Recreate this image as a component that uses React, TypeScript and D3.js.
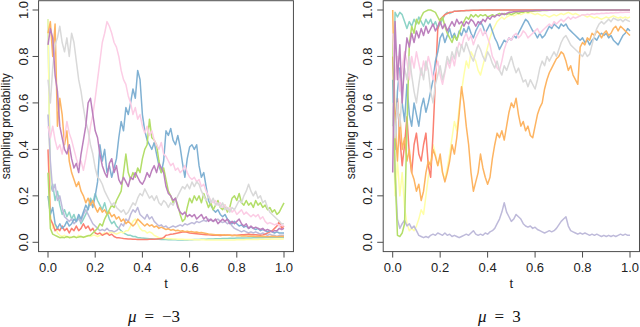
import React from "react";
import * as d3 from "d3";

// ---- data (t = i/(n-1)) ----
const seriesNames = ["teal", "yellow", "lavender", "red", "blue", "orange", "green", "pink", "grey", "purple"];
const seriesColors = ["#8DD3C7", "#FFFFA8", "#BEBADA", "#FB8072", "#80B1D3", "#FDB462", "#B3DE69", "#FCCDE5", "#D9D9D9", "#BC80BD"];
const xTicks = [0, 0.2, 0.4, 0.6, 0.8, 1.0];
const xTickLabels = ["0.0", "0.2", "0.4", "0.6", "0.8", "1.0"];
const yTicks = [0, 0.2, 0.4, 0.6, 0.8, 1.0];
const yTickLabels = ["0.0", "0.2", "0.4", "0.6", "0.8", "1.0"];
const panelTitles = ["\u03bc", "\u03bc"];
const panelMu = ["\u22123", "3"];

// mu = -3 panel
const leftTeal = [0.96,0.22,0.25,0.18,0.22,0.16,0.12,0.14,0.11,0.13, 0.10,0.12,0.09,0.11,0.08,0.10,0.12,0.15,0.19,0.17, 0.21,0.18,0.16,0.14,0.17,0.13,0.10,0.08,0.09,0.07, 0.06,0.05,0.04,0.035,0.03,0.03,0.025,0.025,0.02,0.02, 0.018,0.017,0.016,0.015,0.015,0.014,0.013,0.013,0.012,0.012, 0.012,0.011,0.011,0.011,0.011,0.01,0.01,0.01,0.01,0.01, 0.011,0.011,0.012,0.012,0.012,0.013,0.013,0.013,0.014,0.014, 0.014,0.015,0.015,0.015,0.016,0.016,0.016,0.017,0.017,0.017, 0.018,0.018,0.018,0.018,0.019,0.019,0.019,0.02,0.02,0.02, 0.02,0.02,0.021,0.021,0.021,0.021,0.022,0.022,0.022,0.022,0.022];
const leftYellow = [0.96,0.12,0.06,0.08,0.04,0.03,0.025,0.03,0.02,0.025, 0.02,0.025,0.02,0.03,0.025,0.02,0.025,0.03,0.025,0.03, 0.03,0.025,0.03,0.035,0.04,0.035,0.04,0.045,0.04,0.035, 0.04,0.045,0.04,0.05,0.05,0.07,0.09,0.10,0.08,0.06, 0.05,0.05,0.04,0.045,0.04,0.03,0.025,0.02,0.018,0.017, 0.016,0.015,0.015,0.014,0.014,0.013,0.013,0.013,0.012,0.012, 0.012,0.012,0.011,0.011,0.011,0.011,0.011,0.01,0.01,0.01, 0.01,0.01,0.01,0.01,0.01,0.01,0.01,0.01,0.01,0.01, 0.011,0.011,0.011,0.011,0.012,0.012,0.012,0.012,0.012,0.012, 0.013,0.013,0.013,0.013,0.013,0.014,0.014,0.014,0.014,0.014,0.015];
const leftLavender = [0.55,0.35,0.22,0.25,0.18,0.2,0.15,0.11,0.1,0.09, 0.1,0.08,0.09,0.1,0.09,0.12,0.14,0.12,0.1,0.08, 0.07,0.06,0.05,0.055,0.05,0.06,0.05,0.05,0.045,0.05, 0.06,0.08,0.07,0.1,0.09,0.12,0.14,0.13,0.15,0.12, 0.11,0.1,0.12,0.1,0.11,0.09,0.08,0.07,0.075,0.065, 0.07,0.06,0.065,0.07,0.065,0.07,0.075,0.07,0.08,0.075, 0.08,0.085,0.08,0.09,0.085,0.09,0.095,0.09,0.1,0.095, 0.09,0.095,0.1,0.09,0.085,0.09,0.08,0.085,0.07,0.06, 0.055,0.05,0.045,0.05,0.045,0.04,0.045,0.04,0.045,0.04, 0.035,0.04,0.035,0.03,0.035,0.03,0.03,0.025,0.03,0.03,0.03];
const leftRed = [0.4,0.1,0.08,0.05,0.06,0.05,0.07,0.05,0.06,0.04, 0.06,0.05,0.07,0.05,0.06,0.08,0.06,0.07,0.05,0.06, 0.04,0.035,0.04,0.03,0.035,0.04,0.03,0.035,0.025,0.02, 0.02,0.018,0.016,0.015,0.014,0.014,0.013,0.013,0.012,0.012, 0.012,0.012,0.012,0.013,0.013,0.013,0.014,0.015,0.016,0.02, 0.03,0.032,0.035,0.036,0.038,0.04,0.042,0.044,0.045,0.043, 0.04,0.039,0.038,0.037,0.036,0.035,0.034,0.033,0.032,0.031, 0.03,0.031,0.03,0.029,0.03,0.03,0.031,0.03,0.029,0.03, 0.03,0.031,0.032,0.033,0.034,0.035,0.034,0.033,0.032,0.031, 0.03,0.032,0.035,0.04,0.045,0.05,0.06,0.07,0.09,0.06,0.07];
const leftBlue = [0.2,0.12,0.15,0.08,0.06,0.08,0.06,0.07,0.09,0.07, 0.08,0.1,0.09,0.12,0.1,0.13,0.16,0.14,0.18,0.15, 0.2,0.26,0.42,0.35,0.4,0.3,0.33,0.28,0.32,0.36, 0.45,0.52,0.48,0.58,0.55,0.6,0.66,0.62,0.74,0.7, 0.55,0.48,0.44,0.42,0.4,0.43,0.38,0.33,0.3,0.35, 0.48,0.46,0.49,0.44,0.42,0.46,0.41,0.34,0.28,0.36, 0.41,0.42,0.4,0.42,0.33,0.28,0.3,0.24,0.18,0.16, 0.14,0.13,0.14,0.12,0.11,0.12,0.1,0.09,0.08,0.09, 0.08,0.07,0.075,0.065,0.07,0.06,0.065,0.06,0.055,0.06, 0.05,0.055,0.05,0.045,0.05,0.045,0.04,0.045,0.04,0.04,0.04];
const leftOrange = [0.9,0.95,0.8,0.94,0.5,0.62,0.55,0.42,0.48,0.35, 0.3,0.27,0.24,0.26,0.22,0.2,0.17,0.19,0.16,0.18, 0.15,0.13,0.15,0.13,0.14,0.12,0.13,0.11,0.12,0.1, 0.11,0.09,0.1,0.08,0.09,0.08,0.07,0.08,0.1,0.09, 0.08,0.07,0.08,0.07,0.075,0.065,0.07,0.06,0.065,0.06, 0.055,0.058,0.052,0.055,0.05,0.052,0.048,0.05,0.046,0.048, 0.045,0.046,0.043,0.044,0.041,0.042,0.04,0.038,0.036,0.035, 0.034,0.033,0.032,0.033,0.031,0.032,0.03,0.031,0.029,0.03, 0.028,0.029,0.027,0.028,0.027,0.026,0.027,0.026,0.025,0.026, 0.025,0.026,0.025,0.024,0.025,0.026,0.025,0.024,0.025,0.026,0.025];
const leftGreen = [0.3,0.06,0.035,0.03,0.025,0.02,0.022,0.02,0.025,0.02, 0.022,0.025,0.02,0.023,0.025,0.022,0.025,0.028,0.03,0.04, 0.05,0.06,0.08,0.07,0.1,0.12,0.14,0.16,0.15,0.18, 0.2,0.22,0.3,0.38,0.3,0.27,0.3,0.28,0.32,0.3, 0.36,0.4,0.42,0.53,0.45,0.44,0.42,0.35,0.3,0.32, 0.27,0.22,0.2,0.17,0.19,0.16,0.12,0.09,0.1,0.15, 0.19,0.17,0.2,0.18,0.2,0.17,0.21,0.18,0.15,0.17, 0.14,0.16,0.18,0.15,0.14,0.16,0.13,0.15,0.19,0.2, 0.18,0.21,0.17,0.16,0.18,0.16,0.17,0.15,0.18,0.16, 0.17,0.15,0.16,0.14,0.15,0.13,0.14,0.12,0.13,0.15,0.17];
const leftPink = [0.5,0.45,0.5,0.44,0.4,0.42,0.38,0.45,0.52,0.47, 0.44,0.4,0.36,0.33,0.35,0.31,0.36,0.42,0.5,0.55, 0.62,0.7,0.78,0.86,0.9,0.95,0.93,0.9,0.86,0.84, 0.8,0.74,0.7,0.68,0.63,0.6,0.55,0.58,0.53,0.55, 0.5,0.47,0.5,0.46,0.48,0.44,0.42,0.4,0.43,0.38, 0.37,0.35,0.33,0.34,0.31,0.32,0.3,0.31,0.33,0.3, 0.28,0.27,0.28,0.26,0.27,0.24,0.25,0.22,0.2,0.18, 0.17,0.18,0.16,0.17,0.15,0.16,0.14,0.15,0.13,0.14, 0.12,0.13,0.14,0.12,0.13,0.12,0.11,0.12,0.11,0.12, 0.1,0.11,0.09,0.08,0.085,0.08,0.075,0.08,0.07,0.075,0.07];
const leftGrey = [0.7,0.6,0.75,0.85,0.88,0.93,0.86,0.82,0.88,0.8, 0.9,0.86,0.78,0.7,0.65,0.58,0.52,0.48,0.42,0.38, 0.32,0.28,0.27,0.25,0.22,0.2,0.18,0.16,0.17,0.15, 0.14,0.13,0.14,0.12,0.13,0.15,0.17,0.16,0.19,0.21, 0.2,0.23,0.21,0.19,0.2,0.18,0.2,0.17,0.16,0.18, 0.17,0.15,0.17,0.16,0.18,0.2,0.22,0.24,0.23,0.25, 0.23,0.26,0.24,0.26,0.25,0.22,0.2,0.18,0.2,0.17, 0.19,0.16,0.17,0.15,0.17,0.14,0.15,0.13,0.15,0.14, 0.16,0.18,0.17,0.2,0.22,0.25,0.22,0.2,0.22,0.19, 0.2,0.17,0.18,0.15,0.13,0.12,0.11,0.1,0.09,0.08,0.08];
const leftPurple = [0.85,0.92,0.88,0.72,0.65,0.5,0.45,0.4,0.38,0.42, 0.36,0.32,0.34,0.3,0.38,0.44,0.5,0.6,0.62,0.55, 0.48,0.45,0.38,0.33,0.3,0.28,0.34,0.36,0.3,0.33, 0.27,0.25,0.28,0.26,0.24,0.28,0.27,0.3,0.28,0.26, 0.25,0.27,0.3,0.28,0.31,0.33,0.3,0.34,0.32,0.3, 0.24,0.21,0.2,0.18,0.19,0.15,0.13,0.12,0.13,0.11, 0.12,0.11,0.12,0.1,0.11,0.12,0.1,0.11,0.09,0.1, 0.09,0.1,0.08,0.09,0.1,0.09,0.1,0.08,0.09,0.08, 0.09,0.1,0.08,0.07,0.08,0.06,0.07,0.06,0.065,0.06, 0.055,0.06,0.05,0.055,0.05,0.045,0.05,0.05,0.06,0.055,0.06];

// mu = 3 panel
const rightTeal = [0.5,0.99,0.97,0.99,0.98,0.95,0.92,0.95,0.93,0.96, 0.94,0.97,0.95,0.93,0.96,0.94,0.96,0.93,0.95,0.92, 0.94,0.96,0.98,0.99,0.985,0.99,0.995,0.995,0.996,0.997, 0.997,0.998,0.998,0.998,0.999,0.999,0.999,0.999,0.999,0.999, 1,1,1,1,1,1,1,1,1,1, 1,1,1,1,1,1,1,1,1,1, 1,1,1,1,1,1,1,1,1,1, 1,1,1,1,1,1,1,1,1,1, 1,1,1,1,1,1,1,1,1,1, 1,1,1,1,1,1,1,1,1,1,1];
const rightYellow = [0.6,0.2,0.35,0.2,0.3,0.15,0.08,0.05,0.06,0.05, 0.07,0.1,0.14,0.12,0.2,0.28,0.35,0.42,0.38,0.33, 0.36,0.3,0.27,0.32,0.38,0.45,0.52,0.48,0.58,0.65, 0.72,0.78,0.75,0.82,0.8,0.78,0.74,0.72,0.76,0.8, 0.84,0.88,0.91,0.93,0.95,0.96,0.97,0.96,0.97,0.975, 0.98,0.975,0.98,0.985,0.98,0.985,0.99,0.985,0.99,0.985, 0.98,0.985,0.98,0.975,0.98,0.975,0.97,0.975,0.98,0.975, 0.98,0.985,0.98,0.985,0.99,0.985,0.98,0.985,0.98,0.975, 0.98,0.975,0.97,0.975,0.97,0.965,0.97,0.965,0.96,0.965, 0.97,0.965,0.97,0.975,0.97,0.965,0.97,0.965,0.97,0.965,0.97];
const rightLavender = [0.6,0.3,0.1,0.06,0.08,0.095,0.07,0.08,0.06,0.07, 0.05,0.03,0.025,0.02,0.025,0.02,0.03,0.035,0.03,0.04, 0.035,0.03,0.04,0.03,0.035,0.025,0.03,0.025,0.02,0.025, 0.03,0.035,0.03,0.04,0.05,0.035,0.03,0.035,0.03,0.04, 0.035,0.045,0.05,0.06,0.08,0.1,0.13,0.17,0.13,0.11, 0.09,0.1,0.12,0.11,0.1,0.08,0.07,0.065,0.07,0.06, 0.065,0.055,0.05,0.045,0.04,0.045,0.05,0.045,0.05,0.06, 0.075,0.09,0.1,0.11,0.07,0.05,0.045,0.04,0.035,0.04, 0.035,0.04,0.035,0.03,0.035,0.03,0.035,0.03,0.025,0.03, 0.025,0.03,0.025,0.03,0.025,0.03,0.035,0.03,0.035,0.03,0.03];
const rightRed = [0.8,0.5,0.62,0.45,0.33,0.42,0.54,0.38,0.3,0.42, 0.47,0.38,0.35,0.42,0.47,0.33,0.28,0.47,0.7,0.92, 0.96,0.97,0.98,0.985,0.99,0.99,0.995,0.995,0.996,0.997, 0.997,0.998,0.998,0.999,0.999,0.999,0.999,1,1,1, 1,1,1,1,1,1,1,1,1,1, 1,1,1,1,1,1,1,1,1,1, 1,1,1,1,1,1,1,1,1,1, 1,1,1,1,1,1,1,1,1,1, 1,1,1,1,1,1,1,1,1,1, 1,1,1,1,1,1,1,1,1,1,1];
const rightBlue = [0.7,0.4,0.65,0.75,0.6,0.52,0.68,0.55,0.5,0.6, 0.55,0.5,0.58,0.62,0.56,0.6,0.65,0.7,0.78,0.82, 0.88,0.9,0.86,0.89,0.92,0.88,0.9,0.87,0.91,0.89, 0.92,0.9,0.93,0.9,0.88,0.91,0.93,0.95,0.93,0.9, 0.92,0.94,0.91,0.88,0.86,0.83,0.85,0.87,0.86,0.88, 0.87,0.89,0.88,0.9,0.92,0.94,0.96,0.95,0.93,0.91, 0.9,0.88,0.9,0.88,0.89,0.91,0.93,0.92,0.94,0.93, 0.92,0.94,0.93,0.94,0.92,0.91,0.9,0.89,0.88,0.87, 0.88,0.86,0.87,0.85,0.87,0.88,0.87,0.89,0.9,0.89, 0.9,0.88,0.89,0.87,0.86,0.85,0.87,0.89,0.9,0.92,0.91];
const rightOrange = [1.0,0.5,0.35,0.55,0.4,0.45,0.35,0.4,0.3,0.27, 0.22,0.25,0.18,0.22,0.3,0.35,0.33,0.4,0.37,0.33, 0.38,0.3,0.26,0.3,0.35,0.42,0.38,0.45,0.55,0.67, 0.6,0.5,0.42,0.3,0.22,0.26,0.3,0.38,0.32,0.28, 0.25,0.28,0.36,0.42,0.47,0.45,0.48,0.44,0.5,0.56, 0.6,0.58,0.62,0.55,0.5,0.52,0.48,0.5,0.46,0.45, 0.5,0.55,0.58,0.6,0.66,0.7,0.73,0.75,0.77,0.79, 0.8,0.82,0.81,0.78,0.74,0.76,0.72,0.7,0.68,0.84, 0.86,0.85,0.88,0.87,0.9,0.89,0.91,0.9,0.88,0.9, 0.91,0.89,0.9,0.92,0.93,0.91,0.93,0.92,0.91,0.9,0.89];
const rightGreen = [0.9,0.3,0.03,0.025,0.04,0.08,0.5,0.85,0.93,0.9, 0.96,0.94,0.97,0.99,0.995,1,1,0.995,0.99,0.97, 0.95,0.97,0.93,0.9,0.88,0.86,0.89,0.87,0.9,0.93, 0.95,0.97,0.96,0.98,0.97,0.98,0.97,0.98,0.975,0.98, 0.97,0.975,0.98,0.975,0.98,0.985,0.98,0.985,0.98,0.985, 0.98,0.985,0.99,0.985,0.99,0.99,0.995,0.99,0.995,0.995, 0.996,0.997,0.997,0.998,0.998,0.998,0.999,0.999,0.999,0.999, 1,1,1,1,1,1,1,1,1,1, 1,1,1,1,1,1,1,1,1,1, 1,1,1,1,1,1,1,1,1,1,1];
const rightPink = [0.9,0.7,0.8,0.65,0.75,0.82,0.78,0.7,0.8,0.75, 0.82,0.77,0.72,0.78,0.74,0.8,0.76,0.7,0.74,0.78, 0.72,0.68,0.73,0.78,0.75,0.8,0.76,0.82,0.86,0.84, 0.88,0.9,0.87,0.89,0.85,0.88,0.9,0.92,0.89,0.91, 0.88,0.85,0.8,0.78,0.75,0.74,0.78,0.83,0.86,0.88, 0.87,0.89,0.9,0.88,0.89,0.91,0.9,0.88,0.89,0.9, 0.91,0.92,0.9,0.91,0.92,0.93,0.94,0.93,0.95,0.94, 0.95,0.96,0.95,0.96,0.97,0.96,0.97,0.965,0.97,0.975, 0.98,0.978,0.982,0.98,0.984,0.982,0.985,0.984,0.986,0.985, 0.987,0.986,0.988,0.987,0.989,0.988,0.99,0.989,0.99,0.99,0.99];
const rightGrey = [0.6,0.45,0.6,0.5,0.65,0.75,0.7,0.8,0.72,0.65, 0.6,0.68,0.75,0.7,0.78,0.74,0.65,0.6,0.68,0.72, 0.76,0.7,0.74,0.8,0.77,0.82,0.79,0.84,0.8,0.85, 0.82,0.86,0.83,0.8,0.78,0.82,0.85,0.83,0.8,0.78, 0.82,0.8,0.77,0.75,0.78,0.74,0.72,0.76,0.74,0.77, 0.8,0.76,0.73,0.75,0.72,0.69,0.7,0.67,0.7,0.68, 0.66,0.7,0.75,0.78,0.76,0.8,0.78,0.8,0.82,0.8, 0.83,0.86,0.88,0.89,0.87,0.85,0.84,0.83,0.82,0.81, 0.8,0.82,0.8,0.81,0.85,0.89,0.92,0.94,0.95,0.94, 0.95,0.96,0.95,0.965,0.96,0.955,0.96,0.95,0.96,0.955,0.95];
const rightPurple = [0.3,0.95,0.7,0.85,0.6,0.78,0.88,0.84,0.9,0.86, 0.91,0.88,0.92,0.89,0.93,0.9,0.92,0.94,0.91,0.93, 0.95,0.92,0.94,0.91,0.93,0.95,0.93,0.96,0.94,0.95, 0.93,0.95,0.94,0.96,0.95,0.93,0.95,0.94,0.96,0.95, 0.97,0.96,0.975,0.97,0.98,0.975,0.985,0.98,0.985,0.99, 0.99,0.992,0.993,0.994,0.995,0.995,0.996,0.996,0.997,0.997, 0.998,0.998,0.998,0.999,0.999,0.999,0.999,1,1,1, 1,1,1,1,1,1,1,1,1,1, 1,1,1,1,1,1,1,1,1,1, 1,1,1,1,1,1,1,1,1,1,1];

const leftSeries = [leftTeal, leftYellow, leftLavender, leftRed, leftBlue, leftOrange, leftGreen, leftPink, leftGrey, leftPurple];
const rightSeries = [rightTeal, rightYellow, rightLavender, rightRed, rightBlue, rightOrange, rightGreen, rightPink, rightGrey, rightPurple];

const FONT = "'Liberation Sans', Arial, Helvetica, sans-serif";

type PanelProps = { x0: number; x1: number; series: number[][]; title: string; mu: string };

function Panel({ x0, x1, series, title, mu }: PanelProps) {
  const yTop = 10;
  const yBot = 242.3;
  const x = d3.scaleLinear().domain([0, 1]).range([x0, x1]);
  const y = d3.scaleLinear().domain([0, 1]).range([yBot, yTop]);
  const padX = (x1 - x0) * 0.04;
  const padY = (yBot - yTop) * 0.04;
  const bx0 = x0 - padX, bx1 = x1 + padX, by0 = yTop - padY, by1 = yBot + padY;
  const line = d3.line<number>()
    .x((_, i, arr) => x(i / ((arr as number[]).length - 1)))
    .y((d) => y(d));
  const cx = (x0 + x1) / 2;
  const cy = (yTop + yBot) / 2;
  const axisCol = "#4d4d4d";
  return (
    <g>
      <g>
        {series.map((s, i) => (
          <path key={seriesNames[i]} d={line(s) || ""} fill="none" stroke={seriesColors[i]} strokeWidth={1.5} strokeLinejoin="round" />
        ))}
      </g>
      <rect x={bx0} y={by0} width={bx1 - bx0} height={by1 - by0} fill="none" stroke={axisCol} strokeWidth={1} />
      {xTicks.map((t, i) => (
        <g key={"xt" + i}>
          <line x1={x(t)} x2={x(t)} y1={by1} y2={by1 + 6} stroke={axisCol} strokeWidth={1} />
          <text x={x(t)} y={271.5} textAnchor="middle" fontFamily={FONT} fontSize={13} fill="#222">{xTickLabels[i]}</text>
        </g>
      ))}
      {yTicks.map((t, i) => (
        <g key={"yt" + i}>
          <line x1={bx0 - 6} x2={bx0} y1={y(t)} y2={y(t)} stroke={axisCol} strokeWidth={1} />
          <text transform={`translate(${bx0 - 10.8},${y(t)}) rotate(-90)`} textAnchor="middle" fontFamily={FONT} fontSize={13} fill="#222">{yTickLabels[i]}</text>
        </g>
      ))}
      <text x={cx} y={287.5} textAnchor="middle" fontFamily={FONT} fontSize={13} fill="#222">t</text>
      <text transform={`translate(${bx0 - 28.3},${cy}) rotate(-90)`} textAnchor="middle" fontFamily={FONT} fontSize={12} fill="#222">sampling probability</text>
      <text x={cx - 12} y={322} textAnchor="middle" fontFamily="'Liberation Serif', 'DejaVu Serif', serif" fontSize={17} fill="#111">
        <tspan fontStyle="italic">{title}</tspan>
        <tspan dx={8}>=</tspan>
        <tspan dx={8}>{mu}</tspan>
      </text>
    </g>
  );
}

export default function App() {
  return (
    <svg width={640} height={327} style={{ position: "absolute", left: 0, top: 0, background: "#fff" }}>
      <rect width={640} height={327} fill="#fff" />
      <Panel x0={48} x1={284} series={leftSeries} title={panelTitles[0]} mu={panelMu[0]} />
      <Panel x0={392.7} x1={630} series={rightSeries} title={panelTitles[1]} mu={panelMu[1]} />
    </svg>
  );
}
